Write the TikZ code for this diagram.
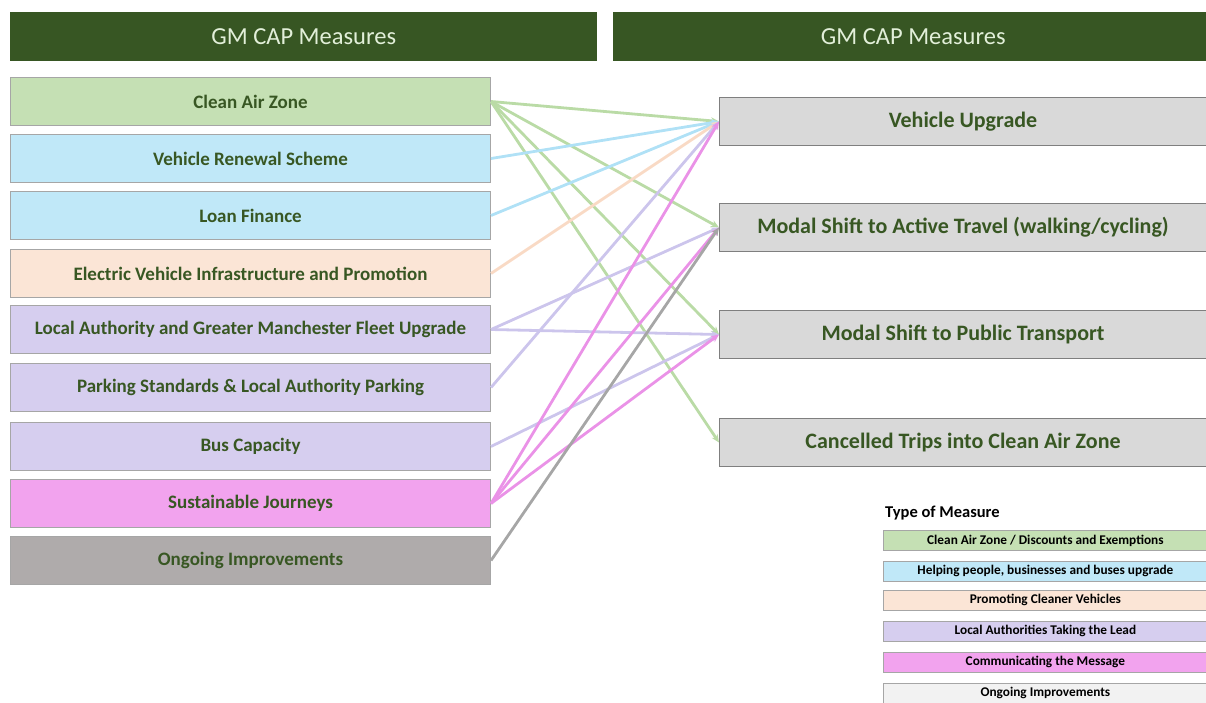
\documentclass[tikz,border=0pt]{standalone}
\usepackage{fontspec}
\setmainfont{Carlito}
\usetikzlibrary{arrows.meta}
\definecolor{hdr}{HTML}{375623}
\definecolor{hdrtext}{HTML}{E2EFD9}
\definecolor{lbl}{HTML}{385723}
\definecolor{fgreen}{HTML}{C5E0B4}
\definecolor{fblue}{HTML}{C0E8F8}
\definecolor{fpeach}{HTML}{FBE5D6}
\definecolor{flav}{HTML}{D6CEEF}
\definecolor{fpink}{HTML}{F2A3EE}
\definecolor{fgrey}{HTML}{AFABAB}
\definecolor{frbox}{HTML}{D9D9D9}
\definecolor{flight}{HTML}{F2F2F2}
\definecolor{bgrey}{HTML}{A6A6A6}
\definecolor{brbox}{HTML}{7F7F7F}
\definecolor{lgreen}{HTML}{BADBA6}
\definecolor{lblue}{HTML}{B0E1F6}
\definecolor{lpeach}{HTML}{F9DAC5}
\definecolor{llav}{HTML}{CCC5EC}
\definecolor{lpink}{HTML}{EA92E7}
\definecolor{lgrey}{HTML}{A6A6A6}
\begin{document}
\begin{tikzpicture}[x=1pt,y=-1pt,
  header/.style={fill=hdr,draw=none,minimum height=49pt,anchor=north west,inner sep=0pt,
    text=hdrtext,font=\fontsize{24.5}{28}\selectfont},
  leftbox/.style={draw=bgrey,line width=1pt,minimum width=480pt,minimum height=48pt,anchor=north west,
    inner sep=0pt,text=lbl,font=\bfseries\fontsize{19}{22}\selectfont},
  rightbox/.style={draw=brbox,fill=frbox,line width=1pt,minimum width=500pt,minimum height=48pt,anchor=north west,
    inner sep=0pt,text=lbl,font=\bfseries\fontsize{22}{26}\selectfont},
  legbox/.style={draw=bgrey,line width=0.8pt,minimum width=330pt,minimum height=20pt,anchor=north west,
    inner sep=0pt,text=black,font=\bfseries\fontsize{13.3}{16}\selectfont},
  link/.style={line width=2.8pt,-{Stealth[length=8pt,width=7pt]}},
]
\useasboundingbox (0,0) rectangle (1206,702);
% headers
\node[header,minimum width=587pt] (h1) at (10,12) {\raisebox{-2pt}{GM CAP Measures}};
\node[header,minimum width=600pt] (h2) at (613,12) {\raisebox{-2pt}{GM CAP Measures}};
% left boxes
\node[leftbox,fill=fgreen] (caz) at (10,77) {Clean Air Zone};
\node[leftbox,fill=fblue] (vrs) at (10,134) {Vehicle Renewal Scheme};
\node[leftbox,fill=fblue] (lf) at (10,191) {Loan Finance};
\node[leftbox,fill=fpeach] (ev) at (10,249) {Electric Vehicle Infrastructure and Promotion};
\node[leftbox,fill=flav] (la) at (10,305) {Local Authority and Greater Manchester Fleet Upgrade};
\node[leftbox,fill=flav] (pk) at (10,363) {Parking Standards \& Local Authority Parking};
\node[leftbox,fill=flav] (bus) at (10,422) {Bus Capacity};
\node[leftbox,fill=fpink] (sj) at (10,479) {Sustainable Journeys};
\node[leftbox,fill=fgrey] (oi) at (10,536) {Ongoing Improvements};
% right boxes
\node[rightbox] (vu) at (719,97) {\hspace*{-13pt}\raisebox{-2pt}{Vehicle Upgrade}};
\node[rightbox] (ma) at (719,203) {\hspace*{-13pt}\raisebox{-2pt}{Modal Shift to Active Travel (walking/cycling)}};
\node[rightbox] (mp) at (719,310) {\hspace*{-13pt}\raisebox{-2pt}{Modal Shift to Public Transport}};
\node[rightbox] (ct) at (719,418) {\hspace*{-13pt}\raisebox{-2pt}{Cancelled Trips into Clean Air Zone}};
% connectors
\draw[link,lgreen] (caz.east) -- (vu.west);
\draw[link,lgreen] (caz.east) -- (ma.west);
\draw[link,lgreen] (caz.east) -- (mp.west);
\draw[link,lgreen] (caz.east) -- (ct.west);
\draw[link,lblue] (vrs.east) -- (vu.west);
\draw[link,lblue] (lf.east) -- (vu.west);
\draw[link,lpeach] (ev.east) -- (vu.west);
\draw[link,llav] (la.east) -- (ma.west);
\draw[link,llav] (la.east) -- (mp.west);
\draw[link,llav] (pk.east) -- (vu.west);
\draw[link,llav] (bus.east) -- (mp.west);
\draw[link,lpink] (sj.east) -- (vu.west);
\draw[link,lpink] (sj.east) -- (ma.west);
\draw[link,lpink] (sj.east) -- (mp.west);
\draw[link,lgrey] (oi.east) -- (ma.west);
% legend
\node[anchor=west,inner sep=0pt,font=\bfseries\fontsize{16.5}{19}\selectfont] (lt) at (885,513) {Type of Measure};
\node[legbox,fill=fgreen] (l1) at (883,530) {\hspace*{-6pt}Clean Air Zone / Discounts and Exemptions};
\node[legbox,fill=fblue] (l2) at (883,561) {\hspace*{-6pt}Helping people, businesses and buses upgrade};
\node[legbox,fill=fpeach] (l3) at (883,590) {\hspace*{-6pt}Promoting Cleaner Vehicles};
\node[legbox,fill=flav] (l4) at (883,621) {\hspace*{-6pt}Local Authorities Taking the Lead};
\node[legbox,fill=fpink] (l5) at (883,652) {\hspace*{-6pt}Communicating the Message};
\node[legbox,fill=flight] (l6) at (883,683) {\hspace*{-6pt}Ongoing Improvements};
\end{tikzpicture}
\end{document}
